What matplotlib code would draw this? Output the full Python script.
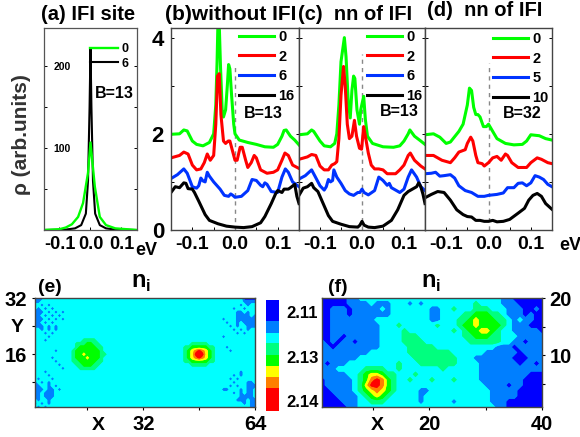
import numpy as np
import matplotlib
matplotlib.use("Agg")
from matplotlib import pyplot as plt

plt.rcParams['font.family'] = ['Liberation Sans', 'DejaVu Sans']
plt.rcParams['font.weight'] = 'bold'
plt.rcParams['mathtext.fontset'] = 'custom'
plt.rcParams['mathtext.bf'] = 'Liberation Sans:bold'

W, H = 580, 437

# panel (a)
a_green_x = [-0.15, -0.1, -0.08, -0.06, -0.04, -0.024, -0.008, 0.0, 0.014, 0.03, 0.05, 0.08, 0.15]
a_green_y = [0, 1, 3, 7, 16, 33, 70, 107, 53, 16, 6, 2, 0]
a_black_x = [-0.15, -0.08, -0.05, -0.03, -0.015, -0.008, -0.003, 0.0, 0.003, 0.008, 0.015, 0.03, 0.05, 0.08, 0.15]
a_black_y = [0, 0.5, 2, 6, 20, 60, 150, 222, 150, 60, 20, 6, 2, 0.5, 0]

# panel (b)
b_green_x = [-0.15, -0.13, -0.12, -0.112, -0.10, -0.09, -0.075, -0.06, -0.05, -0.045, -0.042, -0.04, -0.037, -0.034, -0.03, -0.027, -0.022, -0.018, -0.015, -0.012, -0.008, -0.003, 0.0, 0.01, 0.03, 0.05, 0.07, 0.09, 0.10, 0.11, 0.115, 0.12, 0.13, 0.14, 0.15]
b_green_y = [1.99, 2.0, 2.08, 2.06, 1.85, 1.78, 1.75, 1.82, 2.0, 2.6, 3.5, 4.3, 4.3, 3.4, 2.5, 2.35, 2.5, 3.0, 3.44, 3.35, 2.8, 2.2, 2.0, 1.87, 1.82, 1.78, 1.73, 1.72, 1.78, 1.95, 2.07, 2.08, 1.95, 1.87, 1.77]
b_red_x = [-0.15, -0.13, -0.12, -0.11, -0.10, -0.09, -0.08, -0.072, -0.065, -0.058, -0.05, -0.045, -0.041, -0.037, -0.033, -0.027, -0.022, -0.016, -0.012, -0.006, 0.0, 0.005, 0.012, 0.017, 0.025, 0.03, 0.038, 0.045, 0.05, 0.06, 0.075, 0.09, 0.10, 0.11, 0.117, 0.125, 0.135, 0.15]
b_red_y = [1.5, 1.55, 1.62, 1.58, 1.35, 1.25, 1.27, 1.4, 1.58, 1.45, 1.55, 2.2, 3.2, 3.25, 2.4, 1.85, 1.8, 1.85, 1.85, 1.65, 1.45, 1.45, 1.72, 1.72, 1.45, 1.3, 1.4, 1.55, 1.5, 1.25, 1.18, 1.2, 1.25, 1.45, 1.6, 1.55, 1.35, 1.28]
b_blue_x = [-0.15, -0.135, -0.12, -0.112, -0.10, -0.09, -0.085, -0.08, -0.075, -0.07, -0.065, -0.06, -0.05, -0.035, -0.025, -0.015, -0.01, -0.005, 0.0, 0.015, 0.03, 0.04, 0.05, 0.06, 0.065, 0.07, 0.075, 0.085, 0.10, 0.11, 0.118, 0.125, 0.135, 0.15]
b_blue_y = [1.07, 1.15, 1.27, 1.18, 0.9, 0.87, 0.92, 1.08, 1.02, 1.0, 1.2, 1.12, 1.0, 0.85, 0.72, 0.7, 0.75, 0.72, 0.68, 0.7, 0.82, 1.05, 1.03, 0.93, 0.9, 0.98, 0.95, 0.8, 0.78, 1.1, 1.27, 1.2, 1.0, 0.9]
b_black_x = [-0.15, -0.14, -0.13, -0.12, -0.115, -0.11, -0.10, -0.095, -0.085, -0.07, -0.06, -0.04, -0.02, 0.0, 0.02, 0.04, 0.06, 0.07, 0.085, 0.095, 0.10, 0.11, 0.115, 0.125, 0.13, 0.14, 0.145, 0.15]
b_black_y = [0.78, 0.9, 0.88, 0.98, 0.97, 0.86, 0.85, 0.78, 0.6, 0.32, 0.2, 0.13, 0.08, 0.06, 0.05, 0.07, 0.15, 0.28, 0.55, 0.75, 0.82, 0.78, 0.85, 0.85, 0.88, 0.95, 0.7, 0.55]

# panel (c)
c_green_x = [-0.15, -0.13, -0.12, -0.115, -0.10, -0.09, -0.075, -0.065, -0.06, -0.055, -0.05, -0.042, -0.038, -0.033, -0.028, -0.024, -0.02, -0.017, -0.012, -0.006, -0.003, 0.004, 0.008, 0.013, 0.025, 0.05, 0.075, 0.09, 0.10, 0.11, 0.114, 0.125, 0.14, 0.15]
c_green_y = [1.98, 2.0, 2.08, 2.05, 1.85, 1.75, 1.73, 1.8, 2.0, 2.6, 3.5, 4.0, 3.6, 2.7, 2.33, 2.9, 3.2, 3.15, 2.5, 2.2, 2.5, 2.78, 2.3, 1.95, 1.8, 1.73, 1.72, 1.75, 1.85, 2.0, 2.08, 1.95, 1.85, 1.78]
c_red_x = [-0.15, -0.13, -0.12, -0.11, -0.10, -0.09, -0.08, -0.072, -0.065, -0.06, -0.055, -0.05, -0.044, -0.04, -0.035, -0.03, -0.024, -0.018, -0.013, -0.006, -0.001, 0.004, 0.009, 0.015, 0.022, 0.03, 0.04, 0.05, 0.06, 0.08, 0.09, 0.10, 0.11, 0.115, 0.125, 0.14, 0.15]
c_red_y = [1.47, 1.52, 1.57, 1.55, 1.33, 1.25, 1.25, 1.35, 1.38, 1.42, 1.9, 2.8, 3.4, 3.0, 2.2, 1.9, 1.95, 2.28, 1.95, 1.7, 1.68, 2.15, 1.9, 1.6, 1.35, 1.27, 1.27, 1.25, 1.17, 1.17, 1.25, 1.35, 1.55, 1.6, 1.45, 1.33, 1.27]
c_blue_x = [-0.15, -0.135, -0.12, -0.112, -0.10, -0.09, -0.085, -0.08, -0.075, -0.07, -0.067, -0.06, -0.05, -0.04, -0.03, -0.02, -0.01, -0.005, 0.0, 0.005, 0.015, 0.03, 0.04, 0.05, 0.06, 0.065, 0.07, 0.08, 0.09, 0.10, 0.11, 0.118, 0.13, 0.14, 0.15]
c_blue_y = [1.06, 1.13, 1.25, 1.12, 0.92, 0.83, 0.9, 1.05, 1.0, 1.03, 1.25, 1.1, 0.97, 0.82, 0.75, 0.72, 0.78, 0.78, 0.85, 0.78, 0.73, 0.82, 1.1, 1.03, 0.93, 0.97, 0.88, 0.83, 0.78, 0.85, 1.1, 1.25, 1.1, 0.9, 0.82]
c_black_x = [-0.15, -0.14, -0.13, -0.12, -0.115, -0.105, -0.10, -0.09, -0.08, -0.07, -0.05, -0.03, -0.01, -0.005, 0.0, 0.005, 0.015, 0.03, 0.05, 0.07, 0.085, 0.095, 0.10, 0.11, 0.12, 0.13, 0.135, 0.14, 0.145, 0.15]
c_black_y = [0.72, 0.87, 0.9, 0.97, 0.88, 0.8, 0.7, 0.5, 0.3, 0.18, 0.12, 0.07, 0.06, 0.1, 0.18, 0.1, 0.06, 0.05, 0.08, 0.2, 0.42, 0.62, 0.72, 0.8, 0.85, 0.9, 0.98, 0.9, 0.75, 0.55]

# panel (d)
d_green_x = [-0.15, -0.13, -0.115, -0.10, -0.09, -0.07, -0.06, -0.05, -0.045, -0.04, -0.035, -0.03, -0.025, -0.02, -0.012, -0.005, 0.0, 0.01, 0.02, 0.04, 0.06, 0.08, 0.09, 0.10, 0.11, 0.12, 0.135, 0.15]
d_green_y = [1.98, 2.0, 1.93, 1.8, 1.83, 2.05, 2.2, 2.6, 2.95, 2.9, 2.55, 2.4, 2.4, 2.35, 2.15, 2.15, 2.2, 2.05, 1.9, 1.8, 1.77, 1.78, 1.85, 1.98, 1.97, 1.96, 1.9, 1.87]
d_red_x = [-0.15, -0.13, -0.11, -0.09, -0.08, -0.07, -0.055, -0.05, -0.042, -0.037, -0.03, -0.025, -0.015, -0.01, 0.0, 0.01, 0.02, 0.03, 0.04, 0.045, 0.055, 0.07, 0.09, 0.10, 0.115, 0.125, 0.14, 0.15]
d_red_y = [1.55, 1.55, 1.45, 1.4, 1.5, 1.62, 1.67, 1.8, 1.93, 1.85, 1.55, 1.4, 1.38, 1.33, 1.4, 1.5, 1.53, 1.45, 1.58, 1.55, 1.4, 1.3, 1.3, 1.4, 1.5, 1.47, 1.4, 1.38]
d_blue_x = [-0.15, -0.135, -0.125, -0.115, -0.105, -0.09, -0.08, -0.07, -0.055, -0.04, -0.025, -0.01, 0.0, 0.02, 0.035, 0.045, 0.06, 0.07, 0.08, 0.09, 0.10, 0.11, 0.12, 0.13, 0.14, 0.15]
d_blue_y = [1.17, 1.18, 1.2, 1.12, 1.13, 1.15, 1.08, 0.92, 0.82, 0.78, 0.7, 0.7, 0.72, 0.74, 0.77, 0.88, 0.88, 0.97, 0.98, 0.92, 0.98, 1.13, 1.1, 1.05, 0.95, 0.9]
d_black_x = [-0.15, -0.135, -0.12, -0.105, -0.09, -0.075, -0.06, -0.05, -0.04, -0.03, -0.02, -0.01, 0.0, 0.01, 0.02, 0.035, 0.05, 0.07, 0.085, 0.095, 0.105, 0.115, 0.125, 0.135, 0.15]
d_black_y = [0.67, 0.74, 0.8, 0.78, 0.62, 0.42, 0.32, 0.28, 0.27, 0.2, 0.2, 0.18, 0.18, 0.2, 0.17, 0.18, 0.22, 0.35, 0.45, 0.62, 0.72, 0.76, 0.7, 0.55, 0.43]

# contour band index per site, top row first
e_rows = [
    "1112222222 2222222222 2222222222 2222222222 2222222222 2222222222 0000",
    "1122222222 2222222222 2222222222 2222222222 2222222222 2222222222 1111",
    "2212122222 2222222222 2222222222 2222222222 2222222222 2222222221 2122",
    "2121212222 2222222222 2222222222 2222222222 2222222222 2222222122 1222",
    "1112121212 2222222222 2222222222 2222222222 2222222222 2222222211 2122",
    "1121212122 2222222222 2222222222 2222222222 2222222222 2222222211 1121",
    "1112121212 2222222222 2222222222 2222222222 2222222222 2222122211 1111",
    "1121212222 2222222222 2222222222 2222222222 2222222222 2222212212 1111",
    "1112121222 2222222222 2222222222 2222222222 2222222222 2222221212 2111",
    "2212121222 2222222222 2222222222 2222222222 2222222222 2222222121 2122",
    "2221212222 2222222222 2222222222 2222222222 2222222222 2222222212 1222",
    "2222122222 2222222222 2222222222 2222222222 2222222222 2222122222 2222",
    "2221222222 2222333322 2222222222 2222222222 2222222222 2222222222 2222",
    "2222222222 2233344332 2222222222 2222222222 2222233333 2222222222 2222",
    "2222222222 2234444433 2222222222 2222222222 2223344444 3322212222 2222",
    "2222221222 2344444443 2222222222 2222222222 2223456765 4322221222 2222",
    "2222222222 2344544443 3222222222 2222222222 2223457775 4322222222 2222",
    "2222212222 2344454443 2222222222 2222222222 2223456765 4322222222 2222",
    "2222221222 2334444433 2222222222 2222222222 2223344444 3322222222 2222",
    "2222222122 2233444332 2222222222 2222222222 2222233333 2222222222 2222",
    "2222222212 2223333322 2222222222 2222222222 2222222222 2222222222 2222",
    "2221222222 2222222222 2222222222 2222222222 2222222222 2222222221 2222",
    "2222122222 2222222222 2222222222 2222222222 2222222222 2222222121 2222",
    "2122212222 2222222222 2222222222 2222222222 2222222222 2222221212 2222",
    "1212122222 2222222222 2222222222 2222222222 2222222222 2222222122 2112",
    "1122121222 2222222222 2222222222 2222222222 2222222222 2222221212 2111",
    "1112112122 2222222222 2222222222 2222222222 2222222222 2222112221 2112",
    "1121112222 2222222222 2222222222 2222222222 2222222222 2222222121 2112",
    "1121112222 2222222222 2222222222 2222222222 2222222222 2222222221 1112",
    "2122122222 2222222222 2222222222 2222222222 2222222222 2222222211 1211",
    "1212122222 2222222222 2222222222 2222222222 2222222222 2222222222 1211",
    "2121222222 2222222222 2222222222 2222222222 2222222222 2222222222 2211",
]
f_rows = [
    "0000011222 2222222222 2222222222 2221100000 0",
    "0000011112 1112221212 2222222232 2221110000 0",
    "0011101111 1212222222 1122322233 3222111001 0",
    "0011101111 1112222222 1122223344 4332111010 0",
    "0011111111 2222222222 1122233454 4433212110 0",
    "0011111111 1222322222 2322234454 4443211100 0",
    "0011111111 1222232222 2222323445 5432211111 0",
    "0011011111 1222233322 2222223344 4332221111 1",
    "1010110111 1222233332 2222222333 3332211011 1",
    "1101111111 1222223333 3222222222 2211101111 1",
    "1111111112 2222223333 3333222222 1111110111 1",
    "1111111222 2222222333 3333322211 1111100011 1",
    "1011122222 2222322233 3333322221 1111110110 1",
    "1112222233 3322322222 2232222221 1111111111 1",
    "1111122345 5433222322 2222222221 1111111100 0",
    "0111112346 7643223222 3222322221 1111111000 0",
    "0111112357 7643222222 2222222222 1111011000 0",
    "0011112345 6543222211 2222222222 2111110000 0",
    "0001111234 5432222212 2222222222 2111110000 0",
    "0000111223 3322222212 2222122222 2111000000 0",
    "0000011222 2222222222 2222222222 2211000000 0",
]
band_colors = ['#0000ff', '#007fff', '#00ffff', '#00ff7f', '#00ff00', '#ffff00', '#ff7f00', '#ff0000']
cbar_heights = [68, 33, 33, 33, 35, 31, 35, 64]
cbar_ticks = [30, 162, 297]
cbar_labels = ['2.14', '2.13', '2.11']


def px_axes(left, top, right, bottom):
    return fig.add_axes([left / W, 1 - bottom / H, (right - left) / W, (bottom - top) / H])


def px_text(x, y, s, size, ha='left', **kw):
    fig.text(x / W, 1 - y / H, s, fontsize=size, ha=ha, va='center', **kw)


def to_grid(rows):
    grid = [[int(c) for c in r.replace(" ", "")] for r in rows]
    return np.array(grid[::-1], dtype=float)


fig = plt.figure(figsize=(W / 100, H / 100), dpi=100)

# - LINE PANELS -

ax_a = px_axes(44, 28, 137, 230)
black_line, = ax_a.plot(a_black_x, a_black_y, color='black', lw=1.5)
green_line, = ax_a.plot(a_green_x, a_green_y, color='#00ff00', lw=1.7)
ax_a.set_xlim(-0.15, 0.15)
ax_a.set_ylim(0, 247)
ax_a.set_xticks([-0.1, 0.0, 0.1], ['-0.1', '0.0', '0.1'], fontsize=13)
ax_a.set_yticks([100, 200], ['100', '200'], fontsize=7.5)
ax_a.set_yticks([50, 150], minor=True)
ax_a.tick_params(axis='y', which='both', direction='in', right=True, length=2.5, pad=-19, width=0.7)
ax_a.tick_params(axis='x', direction='in', length=2.5, pad=4, width=0.7)
for s in ax_a.spines.values():
    s.set_linewidth(0.9)
    s.set_color('#555555')
ax_a.legend([green_line, black_line], ['0', '6'], loc='upper left', bbox_to_anchor=(0.5, 0.925),
            frameon=False, fontsize=9, handlelength=2.2, handletextpad=0.25, labelspacing=0.2,
            borderpad=0, borderaxespad=0)

panels = [
    (px_axes(171, 28, 299, 230),
     [(b_green_x, b_green_y, '#00ff00', '0'), (b_red_x, b_red_y, '#ff0000', '2'),
      (b_blue_x, b_blue_y, '#0033ff', '6'), (b_black_x, b_black_y, 'black', '16')], 3.45, 0.531, 0.99),
    (px_axes(299, 28, 425, 230),
     [(c_green_x, c_green_y, '#00ff00', '0'), (c_red_x, c_red_y, '#ff0000', '2'),
      (c_blue_x, c_blue_y, '#0033ff', '6'), (c_black_x, c_black_y, 'black', '16')], 3.65, 0.54, 0.99),
    (px_axes(425, 28, 552, 230),
     [(d_green_x, d_green_y, '#00ff00', '0'), (d_red_x, d_red_y, '#ff0000', '2'),
      (d_blue_x, d_blue_y, '#0033ff', '5'), (d_black_x, d_black_y, 'black', '10')], 3.47, 0.535, 0.98),
]
for i, (ax, curves, dash_top, leg_x, leg_y) in enumerate(panels):
    ax.plot([0, 0], [0, dash_top], color='#888888', lw=1.0, ls=(0, (3, 3)))
    handles = []
    for xs, ys, col, lab in curves:
        line, = ax.plot(xs, ys, color=col, lw=2.2, label=lab)
        handles.append(line)
    ax.set_xlim(-0.15, 0.15)
    ax.set_ylim(0, 4.2)
    ax.set_xticks([-0.1, 0.0, 0.1], ['-0.1', '0.0', '0.1'], fontsize=14)
    ax.set_xticks([-0.05, 0.05], minor=True)
    ax.set_yticks([0, 2, 4], ['0', '2', '4'] if i == 0 else [], fontsize=16)
    ax.set_yticks([1, 3], minor=True)
    ax.tick_params(axis='y', which='both', direction='in', right=True, length=2.5, pad=5, width=0.7)
    ax.tick_params(axis='x', which='both', direction='in', length=2.5, pad=4, width=0.7)
    for s in ax.spines.values():
        s.set_linewidth(1.0)
        s.set_color('#444444')
    ax.legend(handles=handles, loc='upper left', bbox_to_anchor=(leg_x, leg_y), frameon=False,
              fontsize=10.5, handlelength=2.4, handletextpad=0.3, labelspacing=0.38,
              borderpad=0, borderaxespad=0)

px_text(41, 14, '(a) IFI site', 14.5)
px_text(165, 14, '(b)without IFI', 15)
px_text(298, 14, '(c)  nn of IFI', 14.5)
px_text(427, 10, '(d)  nn of IFI', 14.5)
px_text(95, 94, 'B=13', 11.5)
px_text(244, 114, 'B=13', 11.5)
px_text(380, 112, 'B=13', 11.5)
px_text(503, 113, 'B=32', 11.5)
px_text(135, 250, 'eV', 13)
px_text(559, 245, 'eV', 13)
fig.text(22 / W, 1 - 135 / H, '\u03c1 (arb.units)', fontsize=15, rotation=90, ha='center', va='center',
         color='#333333')

# - CONTOUR PANELS -

# just under 1.5 so diagonal neighbours stay separate diamonds
levels = [-0.5, 0.5, 1.49, 2.5, 3.5, 4.5, 5.5, 6.5, 7.5]

ax_e = px_axes(35, 298, 255, 407)
e_x, e_y, e_z = np.arange(1, 65), np.arange(1, 33), to_grid(e_rows)
ax_e.contourf(e_x, e_y, e_z, levels=levels, colors=band_colors)
ax_e.contourf(e_x, e_y, e_z, levels=levels, colors=band_colors, antialiased=True)
ax_e.set_xlim(1, 64)
ax_e.set_ylim(1, 32)
ax_e.set_xticks([32, 64], ['32', '64'], fontsize=14.5)
ax_e.set_xticks([16, 48], minor=True)
ax_e.set_yticks([16, 32], ['16', '32'], fontsize=14.5)
ax_e.set_yticks([8, 24], minor=True)

ax_f = px_axes(322, 298, 542, 407)
f_x, f_y, f_z = np.linspace(1, 40, 41), np.linspace(1, 20, 21), to_grid(f_rows)
ax_f.contourf(f_x, f_y, f_z, levels=levels, colors=band_colors)
ax_f.contourf(f_x, f_y, f_z, levels=levels, colors=band_colors, antialiased=True)
ax_f.set_xlim(1, 40)
ax_f.set_ylim(1, 20)
ax_f.set_xticks([20, 40], ['20', '40'], fontsize=14.5)
ax_f.set_xticks([10, 30], minor=True)
ax_f.yaxis.tick_right()
ax_f.set_yticks([10, 20], ['10', '20'], fontsize=14.5)
ax_f.set_yticks([5, 15], minor=True)

for ax in (ax_e, ax_f):
    ax.tick_params(which='both', length=2.5, width=0.8, pad=3)
    for s in ax.spines.values():
        s.set_linewidth(1.0)
        s.set_color('#444444')

ax_c = px_axes(266, 300, 279, 411)
bottom = 0
for h, col in zip(cbar_heights, band_colors[::-1]):
    ax_c.bar(0, h, bottom=bottom, width=1, color=col)
    bottom += h
ax_c.set_xlim(-0.5, 0.5)
ax_c.set_ylim(0, bottom)
ax_c.set_xticks([])
ax_c.yaxis.tick_right()
ax_c.set_yticks(cbar_ticks, cbar_labels, fontsize=12)
ax_c.tick_params(axis='y', length=0, pad=5)
for s in ax_c.spines.values():
    s.set_visible(False)

px_text(141, 282, r'$\mathbf{n}_{\mathbf{i}}$', 17, ha='center')
px_text(431, 282, r'$\mathbf{n}_{\mathbf{i}}$', 17, ha='center')
px_text(38, 288, '(e)', 14)
px_text(328, 288, '(f)', 14)
px_text(17, 327, 'Y', 14, ha='center')
px_text(98, 425, 'X', 14, ha='center')
px_text(377, 425, 'X', 14, ha='center')

fig.savefig("out.png", dpi=100)
